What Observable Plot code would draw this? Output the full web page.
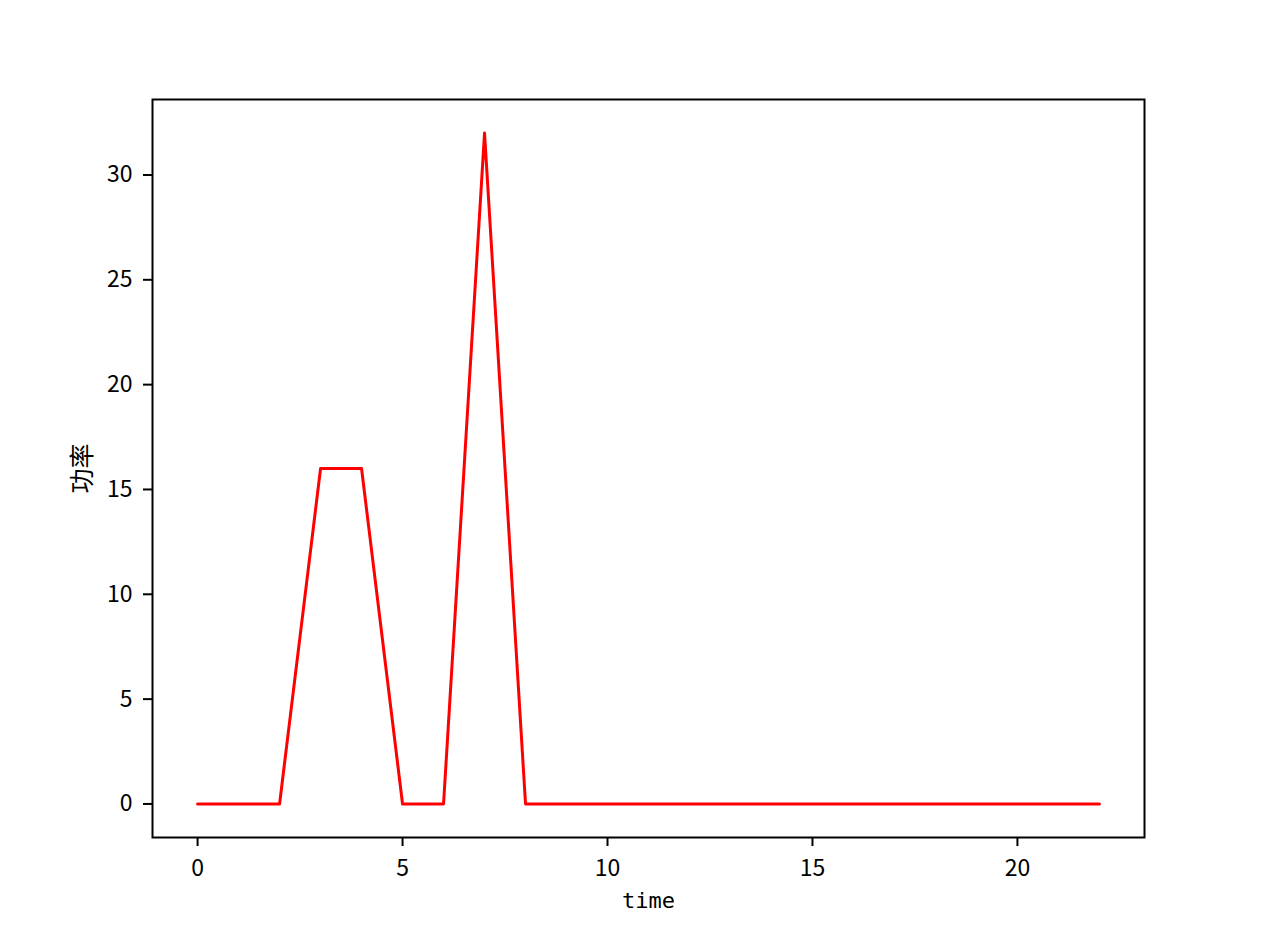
<!DOCTYPE html>
<html>
<head>
<meta charset="utf-8">
<script src="https://cdn.jsdelivr.net/npm/d3@7"></script>
<script src="https://cdn.jsdelivr.net/npm/@observablehq/plot@0.6"></script>
<style>
  html, body { margin: 0; padding: 0; background: #fff; }
</style>
</head>
<body>
<div id="chart"></div>
<script>
const times = [0,1,2,3,4,5,6,7,8,9,10,11,12,13,14,15,16,17,18,19,20,21,22];
const power = [0,0,0,16,16,0,0,32,0,0,0,0,0,0,0,0,0,0,0,0,0,0,0];
const xTicks = [0,5,10,15,20];
const yTicks = [0,5,10,15,20,25,30];
const xLabel = "time";
const yLabel = "功率";

const data = times.map((t, i) => ({t, p: power[i]}));
const tickFont = "'Noto Sans CJK SC', 'DejaVu Sans', sans-serif";

const chart = Plot.plot({
  width: 1263,
  height: 931,
  marginLeft: 152,
  marginRight: 119,
  marginTop: 99,
  marginBottom: 94,
  style: {fontSize: "23px", fontFamily: tickFont, color: "#000", background: "#fff"},
  x: {domain: [-1.1, 23.1]},
  y: {domain: [-1.6, 33.6]},
  marks: [
    Plot.line(data, {x: "t", y: "p", stroke: "#ff0000", strokeWidth: 3}),
    Plot.frame({stroke: "#000", strokeWidth: 2}),
    Plot.axisX({ticks: xTicks, tickSize: 9, tickPadding: 13, fontSize: 23, tickFormat: d => String(d), label: null, stroke: "#000", strokeWidth: 2}),
    Plot.axisY({ticks: yTicks, tickSize: 9, tickPadding: 11, fontSize: 23, tickFormat: d => String(d), label: null, stroke: "#000", strokeWidth: 2}),
    Plot.text([xLabel], {frameAnchor: "bottom", dy: 70, text: d => d, fontSize: 22, fontFamily: "'DejaVu Sans Mono', monospace", fill: "#000"}),
    Plot.text([yLabel], {frameAnchor: "left", dx: -70, rotate: -90, textAnchor: "middle", text: d => d, fontSize: 25, fontFamily: tickFont, fill: "#000"})
  ]
});
document.getElementById("chart").appendChild(chart);
</script>
</body>
</html>
